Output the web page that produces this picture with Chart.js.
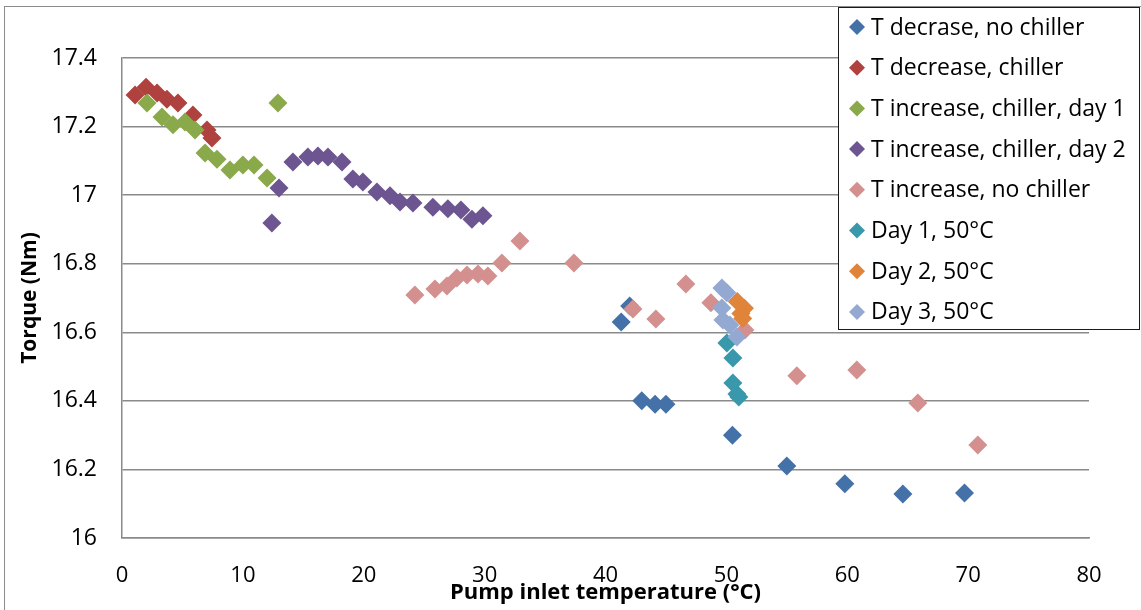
<!DOCTYPE html>
<html>
<head>
<meta charset="utf-8">
<script src="https://cdn.jsdelivr.net/npm/chart.js@4/dist/chart.umd.min.js"></script>
<style>
  html, body { margin: 0; padding: 0; background: #ffffff; }
  #wrap { width: 1141px; height: 610px; position: relative; }
  canvas { display: block; }
</style>
</head>
<body>
<div id="wrap"><canvas id="torque" width="1141" height="610"></canvas></div>
<script>
// Pump inlet temperature (°C) and torque (Nm) per test run
const seriesNames = [
  'T decrase, no chiller',
  'T decrease, chiller',
  'T increase, chiller, day 1',
  'T increase, chiller, day 2',
  'T increase, no chiller',
  'Day 1, 50°C',
  'Day 2, 50°C',
  'Day 3, 50°C'
];

const decNoChillerTemp   = [41.3, 42.0, 43.0, 44.1, 45.0, 50.5, 55.0, 59.8, 64.6, 69.7];
const decNoChillerTorque = [16.63, 16.677, 16.40, 16.39, 16.39, 16.30, 16.21, 16.158, 16.128, 16.131];

const decChillerTemp   = [1.08, 1.99, 2.9, 3.72, 4.63, 5.87, 7.03, 7.44];
const decChillerTorque = [17.292, 17.315, 17.298, 17.28, 17.269, 17.234, 17.19, 17.167];

const incChillerDay1Temp   = [2.07, 3.31, 4.22, 5.21, 6.04, 6.87, 7.86, 8.93, 10.0, 10.92, 12.0, 12.9];
const incChillerDay1Torque = [17.269, 17.228, 17.205, 17.213, 17.19, 17.123, 17.105, 17.073, 17.088, 17.088, 17.05, 17.269];

const incChillerDay2Temp   = [12.4, 12.99, 14.14, 15.38, 16.21, 17.04, 18.2, 19.1, 19.93, 21.09, 22.17, 23.0, 24.07, 25.72, 26.96, 28.04, 28.95, 29.86];
const incChillerDay2Torque = [16.919, 17.021, 17.097, 17.111, 17.114, 17.111, 17.097, 17.047, 17.038, 17.009, 16.998, 16.98, 16.977, 16.965, 16.96, 16.957, 16.93, 16.94];

const incNoChillerTemp   = [24.23, 25.89, 26.88, 27.7, 28.54, 29.45, 30.27, 31.43, 32.92, 37.39, 42.27, 44.17, 46.65, 48.72, 51.53, 55.83, 60.79, 65.84, 70.8];
const incNoChillerTorque = [16.709, 16.726, 16.735, 16.758, 16.767, 16.77, 16.764, 16.802, 16.866, 16.802, 16.668, 16.639, 16.741, 16.686, 16.607, 16.473, 16.49, 16.394, 16.271];

const day1Temp   = [50.04, 50.54, 50.54, 50.87, 51.03];
const day1Torque = [16.569, 16.525, 16.452, 16.42, 16.411];

const day2Temp   = [50.9, 51.5, 51.2, 51.35];
const day2Torque = [16.69, 16.67, 16.655, 16.64];

const day3Temp   = [49.63, 50.04, 49.63, 49.71, 50.29, 50.87];
const day3Torque = [16.729, 16.715, 16.671, 16.636, 16.621, 16.586];

// Axis ticks
const xTicks = [0, 10, 20, 30, 40, 50, 60, 70, 80];
const yTicks = [16, 16.2, 16.4, 16.6, 16.8, 17, 17.2, 17.4];

const seriesColors = ['#4471A8', '#AF413E', '#89A94B', '#6C5591', '#D3908F', '#3A98AC', '#E08439', '#94A9D2'];

const temps   = [decNoChillerTemp, decChillerTemp, incChillerDay1Temp, incChillerDay2Temp, incNoChillerTemp, day1Temp, day2Temp, day3Temp];
const torques = [decNoChillerTorque, decChillerTorque, incChillerDay1Torque, incChillerDay2Torque, incNoChillerTorque, day1Torque, day2Torque, day3Torque];

const datasets = seriesNames.map((name, i) => ({
  label: name,
  data: temps[i].map((t, k) => ({ x: t, y: torques[i][k] })),
  backgroundColor: seriesColors[i],
  borderColor: seriesColors[i],
  borderWidth: 0,
  pointStyle: 'rectRot',
  pointRadius: 9.5,
  pointHoverRadius: 9.5,
  order: seriesNames.length - 1 - i   // later series drawn on top
}));

const FONT = "'Open Sans', 'DejaVu Sans', sans-serif";
const GRID = '#8a8a8a';

// Outer chart frame
const framePlugin = {
  id: 'frame',
  beforeDraw(chart) {
    const ctx = chart.ctx;
    ctx.save();
    ctx.fillStyle = '#ffffff';
    ctx.fillRect(0, 0, chart.width, chart.height);
    ctx.strokeStyle = '#8c8c8c';
    ctx.lineWidth = 1;
    ctx.strokeRect(4.5, 6.5, chart.width + 20, chart.height + 20);
    ctx.restore();
  }
};

// Boxed legend in the upper right corner, drawn over the plot
const boxLegendPlugin = {
  id: 'boxLegend',
  afterDraw(chart) {
    const ctx = chart.ctx;
    const left = 838.5, top = 7.5, right = 1139.5, bottom = 329.5;
    ctx.save();
    ctx.fillStyle = '#ffffff';
    ctx.fillRect(left, top, right - left, bottom - top);
    ctx.strokeStyle = '#1a1a1a';
    ctx.lineWidth = 1;
    ctx.strokeRect(left, top, right - left, bottom - top);
    ctx.font = '23px ' + FONT;
    ctx.textBaseline = 'middle';
    ctx.textAlign = 'left';
    chart.data.datasets.forEach((ds, i) => {
      const cy = 27 + i * 40.7;
      const cx = 857, r = 8;
      ctx.fillStyle = ds.backgroundColor;
      ctx.beginPath();
      ctx.moveTo(cx - r, cy);
      ctx.lineTo(cx, cy - r);
      ctx.lineTo(cx + r, cy);
      ctx.lineTo(cx, cy + r);
      ctx.closePath();
      ctx.fill();
      ctx.fillStyle = '#000000';
      ctx.fillText(ds.label, 871, cy + 1);
    });
    ctx.restore();
  }
};

new Chart(document.getElementById('torque'), {
  type: 'scatter',
  data: { datasets },
  plugins: [framePlugin, boxLegendPlugin],
  options: {
    responsive: false,
    animation: false,
    layout: { padding: { top: 58, right: 52, bottom: 0, left: 0 } },
    plugins: {
      legend: { display: false },
      tooltip: { enabled: false }
    },
    scales: {
      x: {
        type: 'linear',
        min: xTicks[0],
        max: xTicks[xTicks.length - 1],
        afterFit(scale) { scale.height = 72; },
        afterBuildTicks(scale) { scale.ticks = xTicks.map(v => ({ value: v })); },
        ticks: {
          padding: 25,
          color: '#000000',
          font: { family: FONT, size: 22 },
          callback: v => String(v)
        },
        grid: { display: false, drawTicks: false },
        border: { display: true, color: GRID, width: 1.5 },
        title: {
          display: true,
          text: 'Pump inlet temperature (°C)',
          color: '#000000',
          font: { family: FONT, size: 22, weight: 'bold' },
          padding: { top: 0, bottom: 4 }
        }
      },
      y: {
        type: 'linear',
        min: yTicks[0],
        max: yTicks[yTicks.length - 1],
        afterFit(scale) { scale.width = 122; },
        afterBuildTicks(scale) { scale.ticks = yTicks.map(v => ({ value: v })); },
        ticks: {
          padding: 25,
          color: '#000000',
          font: { family: FONT, size: 23 },
          callback: v => String(+v.toFixed(1))
        },
        grid: { display: true, color: GRID, lineWidth: 1.5, drawTicks: false },
        border: { display: true, color: GRID, width: 1.5 },
        title: {
          display: true,
          text: 'Torque (Nm)',
          color: '#000000',
          font: { family: FONT, size: 21, weight: 'bold' },
          padding: { top: 17, bottom: 0 }
        }
      }
    }
  }
});
</script>
</body>
</html>
